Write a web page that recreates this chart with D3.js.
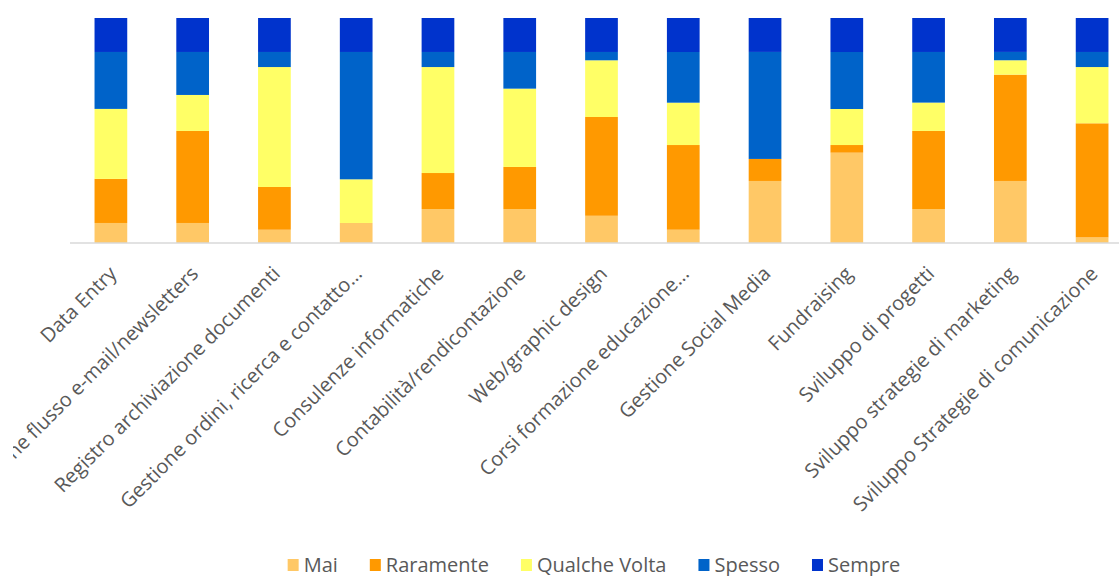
<!DOCTYPE html>
<html>
<head>
<meta charset="utf-8">
<script src="https://cdn.jsdelivr.net/npm/d3@7"></script>
<style>
    body { margin: 0; background: #ffffff; }
    svg { display: block; }
</style>
</head>
<body>
<div id="chart"></div>
<script>
// categorie (la seconda etichetta e' tagliata dal bordo sinistro)
var categories = [
    'Data Entry',
    'Gestione flusso e-mail/newsletters',
    'Registro archiviazione documenti',
    'Gestione ordini, ricerca e contatto…',
    'Consulenze informatiche',
    'Contabilità/rendicontazione',
    'Web/graphic design',
    'Corsi formazione educazione…',
    'Gestione Social Media',
    'Fundraising',
    'Sviluppo di progetti',
    'Sviluppo strategie di marketing',
    'Sviluppo Strategie di comunicazione'
];
var seriesNames = ['Mai', 'Raramente', 'Qualche Volta', 'Spesso', 'Sempre'];
var seriesColors = ['#ffc866', '#ff9900', '#ffff66', '#0063c9', '#0033cc'];

// percentuali
var mai        = [8.9, 8.9, 5.9, 8.9, 15.1, 15.1, 12.1, 5.9, 27.6, 40.1, 15.1, 27.6, 2.5];
var raramente  = [19.6, 40.9, 19.0, 0, 16.0, 18.7, 43.9, 37.6, 9.8, 3.4, 34.7, 47.3, 50.7];
var qualche    = [31.1, 16.0, 53.3, 19.4, 47.1, 34.8, 25.2, 18.8, 0, 16.0, 12.6, 6.4, 25.0];
var spesso     = [25.3, 19.1, 6.7, 56.6, 6.7, 16.3, 3.7, 22.5, 47.6, 25.3, 22.5, 3.7, 6.7];
var sempre     = [15.1, 15.1, 15.1, 15.1, 15.1, 15.1, 15.1, 15.1, 15.1, 15.1, 15.1, 15.1, 15.1];

var width = 1119, height = 576;
var plotTop = 18, plotBottom = 243;
var plotLeft = 70, plotRight = 1133;

var rows = categories.map(function(c, i) {
    return {cat: c, 'Mai': mai[i], 'Raramente': raramente[i], 'Qualche Volta': qualche[i],
        'Spesso': spesso[i], 'Sempre': sempre[i]};
});
// normalizza a 100%
rows.forEach(function(r) {
    var tot = d3.sum(seriesNames, function(k) { return r[k]; });
    seriesNames.forEach(function(k) { r[k] = r[k] / tot; });
});

var stack = d3.stack().keys(seriesNames);
var layers = stack(rows);

var x = d3.scaleBand().domain(categories).range([plotLeft, plotRight])
    .paddingInner(0.6).paddingOuter(0.3);
var y = d3.scaleLinear().domain([0, 1]).range([plotBottom, plotTop]);
var color = d3.scaleOrdinal().domain(seriesNames).range(seriesColors);

var svg = d3.select('#chart').append('svg')
    .attr('width', width).attr('height', height);

// il grafico originale e' ritagliato a sinistra
svg.append('defs').append('clipPath').attr('id', 'crop')
    .append('rect').attr('x', 13).attr('y', 0).attr('width', width - 13).attr('height', height);

svg.selectAll('g.layer').data(layers).enter().append('g')
    .attr('class', 'layer')
    .attr('fill', function(d) { return color(d.key); })
    .selectAll('rect').data(function(d) { return d; }).enter().append('rect')
    .attr('x', function(d) { return x(d.data.cat); })
    .attr('width', x.bandwidth())
    .attr('y', function(d) { return y(d[1]); })
    .attr('height', function(d) { return y(d[0]) - y(d[1]); });

// asse x
var xAxis = svg.append('g').attr('clip-path', 'url(#crop)')
    .append('g').attr('transform', 'translate(0,' + plotBottom + ')')
    .call(d3.axisBottom(x).tickSize(0).tickPadding(0));
xAxis.select('.domain').attr('d', 'M' + plotLeft + ',0H' + width)
    .attr('stroke', '#d9d9d9').attr('stroke-width', 1.5);
xAxis.selectAll('.tick text')
    .attr('font-family', 'Open Sans, sans-serif')
    .attr('font-size', '20px')
    .attr('fill', '#595959')
    .attr('text-anchor', 'end')
    .attr('dy', '0.35em')
    .attr('transform', 'translate(2,27) rotate(-45)');

// legenda
var legend = svg.append('g').attr('font-family', 'Open Sans, sans-serif').attr('font-size', '20px');
var lx = 0;
var items = legend.selectAll('g').data(seriesNames).enter().append('g');
items.append('rect').attr('width', 11).attr('height', 12).attr('y', -6)
    .attr('fill', function(d) { return color(d); });
items.append('text').attr('x', 16).attr('dy', '0.35em').attr('fill', '#595959')
    .text(function(d) { return d; });
items.each(function() {
    var w = this.getBBox().width;
    d3.select(this).attr('transform', 'translate(' + lx + ',0)');
    lx += w + 32;
});
lx -= 32;
legend.attr('transform', 'translate(' + (594 - lx / 2) + ',565)');
</script>
</body>
</html>
